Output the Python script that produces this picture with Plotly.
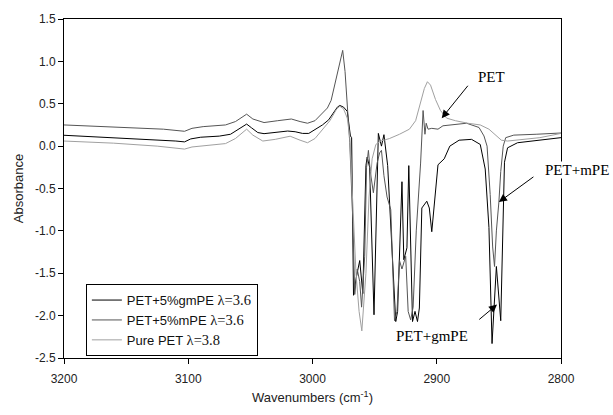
import plotly.graph_objects as go

# ---- data ----
gm_wn = [3200, 3160, 3125, 3110, 3103, 3098, 3090, 3075, 3066, 3059, 3053, 3049, 3044, 3039, 3030, 3020, 3014, 3008, 3003, 2997, 2992, 2987, 2983.5, 2980, 2978, 2975, 2972, 2970.5, 2969.5, 2968.5, 2967, 2964.5, 2962, 2959.5, 2957, 2956, 2954, 2950.5, 2947, 2944.5, 2942.5, 2939.5, 2937, 2933, 2931.5, 2928, 2926.5, 2924, 2922.5, 2919.5, 2917.5, 2915.5, 2914, 2912, 2908, 2906, 2904, 2901.5, 2899, 2894, 2889.5, 2882, 2872, 2865, 2861, 2858, 2856.5, 2855.5, 2852, 2848.5, 2845.5, 2843, 2835, 2818, 2800]
gm_ab = [0.128, 0.10, 0.075, 0.06, 0.05, 0.085, 0.105, 0.118, 0.14, 0.2, 0.26, 0.215, 0.16, 0.147, 0.16, 0.178, 0.17, 0.15, 0.15, 0.2, 0.25, 0.31, 0.385, 0.46, 0.48, 0.46, 0.41, 0.2, 0.12, 0.1, -1.76, -1.53, -1.35, -1.74, -0.23, -0.13, -0.25, -1.99, 0.15, 0.0, 0.135, -0.23, -0.88, -2.07, -1.95, -0.42, -1.34, -1.2, -0.23, -2.07, -1.95, -2.07, -1.91, -0.73, -0.65, -0.73, -1.01, -0.57, -0.22, -0.15, 0.0, 0.07, 0.08, 0.02, -0.27, -0.96, -1.72, -2.33, -1.42, -2.06, -0.19, -0.02, 0.04, 0.07, 0.1]

m_wn = [3200, 3150, 3120, 3103, 3097, 3088, 3070, 3062, 3053, 3048, 3039, 3028, 3017, 3010, 3004, 2998, 2992, 2988, 2985, 2981, 2978, 2975.7, 2973.8, 2972, 2970, 2967.5, 2966, 2964, 2962, 2960.5, 2958, 2956.5, 2955, 2953.5, 2951, 2948, 2946, 2944.5, 2942.5, 2940, 2937, 2934, 2932, 2930, 2928, 2925, 2923, 2921, 2919, 2916.5, 2913, 2911, 2909.5, 2908.5, 2907, 2904, 2899, 2895, 2888, 2876, 2866, 2862, 2859.5, 2857, 2855, 2853.5, 2852, 2850, 2848.5, 2846.5, 2844.5, 2838, 2820, 2800]
m_ab = [0.25, 0.215, 0.2, 0.175, 0.21, 0.23, 0.25, 0.29, 0.377, 0.32, 0.278, 0.30, 0.32, 0.29, 0.27, 0.30, 0.385, 0.45, 0.54, 0.81, 0.98, 1.13, 0.88, 0.47, 0.04, -0.9, -1.75, -1.45, -1.6, -1.9, -1.3, -0.25, -0.05, -0.3, -0.55, -0.2, -0.08, -0.05, -0.35, -0.6, -0.75, -2.06, -1.95, -1.35, -1.45, -1.3, -1.95, -2.05, -1.9, -1.0, -0.2, 0.42, 0.14, 0.27, 0.2, 0.21, 0.2, 0.24, 0.25, 0.27, 0.22, 0.12, 0.0, -0.57, -1.19, -1.42, -1.0, -0.66, -0.3, 0.0, 0.1, 0.13, 0.14, 0.155]

pet_wn = [3200, 3160, 3125, 3110, 3103, 3097, 3085, 3070, 3062, 3053, 3048, 3040, 3030, 3018, 3010, 3004, 2998, 2992, 2986, 2980.5, 2978, 2975, 2972, 2970, 2968, 2965, 2962.5, 2960.3, 2957, 2954.5, 2952, 2949, 2945, 2938, 2930, 2922, 2917, 2913, 2910, 2907.5, 2905, 2901, 2897, 2892, 2885, 2875, 2865, 2858, 2853, 2848, 2843, 2835, 2817, 2800]
pet_ab = [0.06, 0.035, 0.0, -0.02, -0.035, -0.01, 0.01, 0.03, 0.09, 0.2, 0.13, 0.06, 0.08, 0.117, 0.07, 0.04, 0.09, 0.19, 0.3, 0.44, 0.47, 0.44, 0.33, 0.1, -0.6, -1.5, -1.95, -2.18, -1.5, -0.6, -0.15, 0.02, 0.06, 0.09, 0.14, 0.2, 0.3, 0.5, 0.68, 0.76, 0.72, 0.55, 0.42, 0.33, 0.3, 0.27, 0.25, 0.2, 0.13, 0.07, 0.06, 0.07, 0.1, 0.15]

lam_style = "font-family:Liberation Serif;font-size:14.5px"
series_names = [
    f"PET+5%gmPE <span style='{lam_style}'>λ=3.6</span>",
    f"PET+5%mPE <span style='{lam_style}'>λ=3.6</span>",
    f"Pure PET <span style='{lam_style}'>λ=3.8</span>",
]
series_colors = ["#000000", "#555555", "#a0a0a0"]

x_ticks = [3200, 3100, 3000, 2900, 2800]
y_ticks = [1.5, 1.0, 0.5, 0.0, -0.5, -1.0, -1.5, -2.0, -2.5]

fig = go.Figure()
for wn, ab, name, col in zip([gm_wn, m_wn, pet_wn], [gm_ab, m_ab, pet_ab], series_names, series_colors):
    fig.add_trace(go.Scatter(x=wn, y=ab, mode="lines", name=name,
                             line=dict(color=col, width=1)))

serif = "Liberation Serif, Times New Roman, serif"
sans = "Liberation Sans, Arial, sans-serif"

# arrows (head at x,y ; tail at ax,ay)
arrows = [
    dict(x=2896, y=0.33, ax=2874, ay=0.73),
    dict(x=2850, y=-0.66, ax=2821, ay=-0.35),
    dict(x=2851.5, y=-1.87, ax=2867, ay=-2.06),
]
for a in arrows:
    fig.add_annotation(x=a["x"], y=a["y"], ax=a["ax"], ay=a["ay"],
                       xref="x", yref="y", axref="x", ayref="y",
                       text="", showarrow=True, arrowhead=2, arrowsize=1.6,
                       arrowwidth=1, arrowcolor="black")

fig.add_annotation(x=2856, y=0.82, xref="x", yref="y", text="PET", showarrow=False,
                   xanchor="center", font=dict(family=serif, size=15, color="black"))
fig.add_annotation(x=1.032, y=-0.28, xref="paper", yref="y", text="PET+mPE", showarrow=False,
                   xanchor="center", bgcolor="white", borderpad=0,
                   font=dict(family=serif, size=15, color="black"))
fig.add_annotation(x=2904, y=-2.24, xref="x", yref="y", text="PET+gmPE", showarrow=False,
                   xanchor="center", font=dict(family=serif, size=15, color="black"))

fig.update_layout(
    width=613, height=415,
    margin=dict(l=64, r=52, t=13, b=54),
    paper_bgcolor="white", plot_bgcolor="white",
    font=dict(family=sans, size=12, color="#222"),
    showlegend=True,
    legend=dict(x=0.044, y=0.218, xanchor="left", yanchor="top",
                bgcolor="white", bordercolor="black", borderwidth=1,
                font=dict(family=sans, size=13, color="#111"),
                itemwidth=30, tracegroupgap=0),
)
fig.update_xaxes(range=[3200, 2800], tickvals=x_ticks, ticktext=[str(v) for v in x_ticks],
                 ticks="outside", ticklen=5, tickcolor="black", showline=True,
                 linecolor="black", linewidth=1, mirror=True, showgrid=False, zeroline=False,
                 ticklabelstandoff=5,
                 title=dict(text="Wavenumbers (cm<sup>-1</sup>)", font=dict(size=13, family=sans), standoff=7))
fig.update_yaxes(range=[-2.5, 1.5], tickvals=y_ticks, ticktext=[f"{v:.1f}" for v in y_ticks],
                 ticks="outside", ticklen=5, tickcolor="black", showline=True,
                 linecolor="black", linewidth=1, mirror=True, showgrid=False, zeroline=False,
                 title=dict(text="Absorbance", font=dict(size=13, family=sans), standoff=8))

fig.write_html("out.html", config={"displayModeBar": False},
               post_script="document.body.style.margin='0';")
